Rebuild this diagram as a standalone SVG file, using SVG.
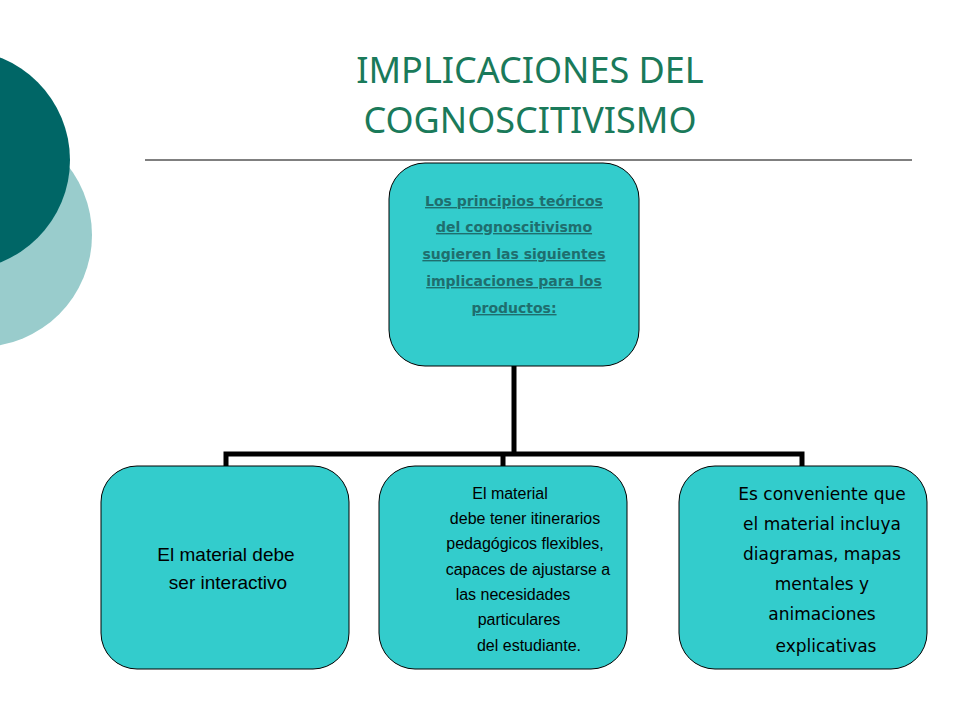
<svg xmlns="http://www.w3.org/2000/svg" width="960" height="720" viewBox="0 0 960 720">
<style>
.box{fill:#33cccc;stroke:#000;stroke-width:1}
.t{font-family:"DejaVu Sans",sans-serif;fill:#000}
.a{font-family:"Liberation Sans",sans-serif;fill:#000}
.h{font-family:"DejaVu Sans",sans-serif;font-weight:bold;fill:#1f6e6e;text-decoration:underline;font-size:14px}
</style>
<rect width="960" height="720" fill="#fff"/>
<circle cx="-20" cy="235" r="112" fill="#99cccc"/>
<circle cx="-40" cy="160" r="110" fill="#006666"/>
<g id="title" font-family="'Noto Sans',sans-serif" font-size="36" fill="#1a7a5a" text-anchor="middle">
<text x="530" y="83">IMPLICACIONES DEL</text>
<text x="530" y="133">COGNOSCITIVISMO</text>
</g>
<line x1="145" y1="160" x2="912" y2="160" stroke="#000" stroke-width="1"/>
<g id="connectors" stroke="#000" stroke-width="5" fill="none">
<path d="M514 366V454M226 466V454H802V466M503 454V466"/>
</g>
<g id="root"><rect class="box" x="389" y="163" width="250" height="203" rx="36"/>
<g class="h" text-anchor="middle">
<text x="514" y="206">Los principios teóricos</text>
<text x="514" y="232">del cognoscitivismo</text>
<text x="514" y="259">sugieren las siguientes</text>
<text x="514" y="286">implicaciones para los</text>
<text x="514" y="313">productos:</text></g></g>
<g id="n1"><rect class="box" x="101" y="466" width="248" height="203" rx="36"/>
<g class="a" font-size="19" text-anchor="middle"><text x="226" y="561">El material debe</text><text x="228" y="589">ser interactivo</text></g></g>
<g id="n2"><rect class="box" x="379" y="466" width="248" height="203" rx="36"/>
<g class="a" font-size="16" text-anchor="middle">
<text x="510" y="499">El material</text>
<text x="525" y="524">debe tener itinerarios</text>
<text x="525" y="549">pedagógicos flexibles,</text>
<text x="528" y="575">capaces de ajustarse a</text>
<text x="513" y="600">las necesidades</text>
<text x="519" y="625">particulares</text>
<text x="529" y="651">del estudiante.</text></g></g>
<g id="n3"><rect class="box" x="679" y="466" width="248" height="203" rx="36"/>
<g class="t" font-size="17" text-anchor="middle">
<text x="822" y="500">Es conveniente que</text>
<text x="822" y="530">el material incluya</text>
<text x="822" y="560">diagramas, mapas</text>
<text x="822" y="590">mentales y</text>
<text x="822" y="620">animaciones</text>
<text x="826" y="652">explicativas</text></g></g>
</svg>
